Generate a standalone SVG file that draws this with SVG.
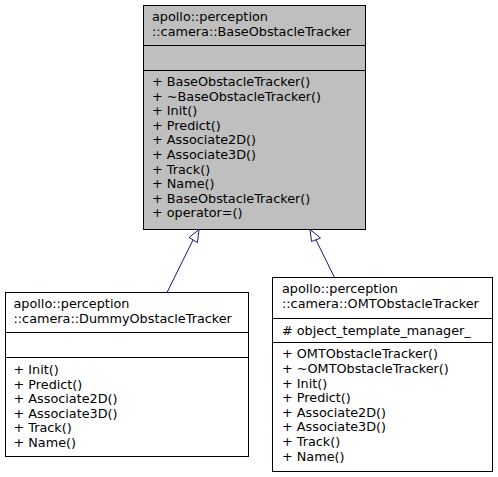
<svg xmlns="http://www.w3.org/2000/svg" width="498" height="477" viewBox="0 0 498 477">
<style>
text { font-family: "DejaVu Sans", sans-serif; font-size: 12.8px; fill: #000; }
.box { stroke: #000; stroke-width: 1; }
.base { fill: #bfbfbf; }
.plain { fill: #fff; }
.sep { stroke: #000; stroke-width: 1; }
.edge { stroke: #191970; stroke-width: 1; fill: none; }
.head { stroke: #191970; stroke-width: 1; fill: #fff; }
</style>
<rect width="498" height="477" fill="#fff"/>
<g id="node-base">
<rect class="box base" x="143.5" y="5.5" width="222" height="224"/>
<text x="152" y="20.5">apollo::perception</text>
<text x="152" y="35.5">::camera::BaseObstacleTracker</text>
<line class="sep" x1="143.5" y1="45.5" x2="365.5" y2="45.5"/>
<line class="sep" x1="143.5" y1="70.5" x2="365.5" y2="70.5"/>
<text x="152" y="86">+ BaseObstacleTracker()</text>
<text x="152" y="100.6">+ ~BaseObstacleTracker()</text>
<text x="152" y="115.2">+ Init()</text>
<text x="152" y="129.8">+ Predict()</text>
<text x="152" y="144.4">+ Associate2D()</text>
<text x="152" y="159">+ Associate3D()</text>
<text x="152" y="173.6">+ Track()</text>
<text x="152" y="188.2">+ Name()</text>
<text x="152" y="202.8">+ BaseObstacleTracker()</text>
<text x="152" y="217.4">+ operator=()</text>
</g>
<g id="node-dummy">
<rect class="box plain" x="5.5" y="292.5" width="243" height="164"/>
<text x="13.5" y="308">apollo::perception</text>
<text x="13.5" y="323">::camera::DummyObstacleTracker</text>
<line class="sep" x1="5.5" y1="332.5" x2="248.5" y2="332.5"/>
<line class="sep" x1="5.5" y1="357.5" x2="248.5" y2="357.5"/>
<text x="13.5" y="374">+ Init()</text>
<text x="13.5" y="388.6">+ Predict()</text>
<text x="13.5" y="403.2">+ Associate2D()</text>
<text x="13.5" y="417.8">+ Associate3D()</text>
<text x="13.5" y="432.4">+ Track()</text>
<text x="13.5" y="447">+ Name()</text>
</g>
<g id="node-omt">
<rect class="box plain" x="272.5" y="277.5" width="220" height="194"/>
<text x="282" y="293">apollo::perception</text>
<text x="282" y="308">::camera::OMTObstacleTracker</text>
<line class="sep" x1="272.5" y1="318.5" x2="492.5" y2="318.5"/>
<text x="282" y="335"># object_template_manager_</text>
<line class="sep" x1="272.5" y1="342.5" x2="492.5" y2="342.5"/>
<text x="282" y="358.3">+ OMTObstacleTracker()</text>
<text x="282" y="372.9">+ ~OMTObstacleTracker()</text>
<text x="282" y="387.5">+ Init()</text>
<text x="282" y="402.1">+ Predict()</text>
<text x="282" y="416.7">+ Associate2D()</text>
<text x="282" y="431.3">+ Associate3D()</text>
<text x="282" y="445.9">+ Track()</text>
<text x="282" y="460.5">+ Name()</text>
</g>
<g id="connectors">
<g id="edge-dummy-base">
<line class="edge" x1="167" y1="292.5" x2="193" y2="240"/>
<polygon class="head" points="199,229.5 189,237.5 197.5,242.5"/>
</g>
<g id="edge-omt-base">
<line class="edge" x1="334.5" y1="277.5" x2="316" y2="240"/>
<polygon class="head" points="310,229.5 311.5,241.5 320.5,238"/>
</g>
</g>
</svg>
